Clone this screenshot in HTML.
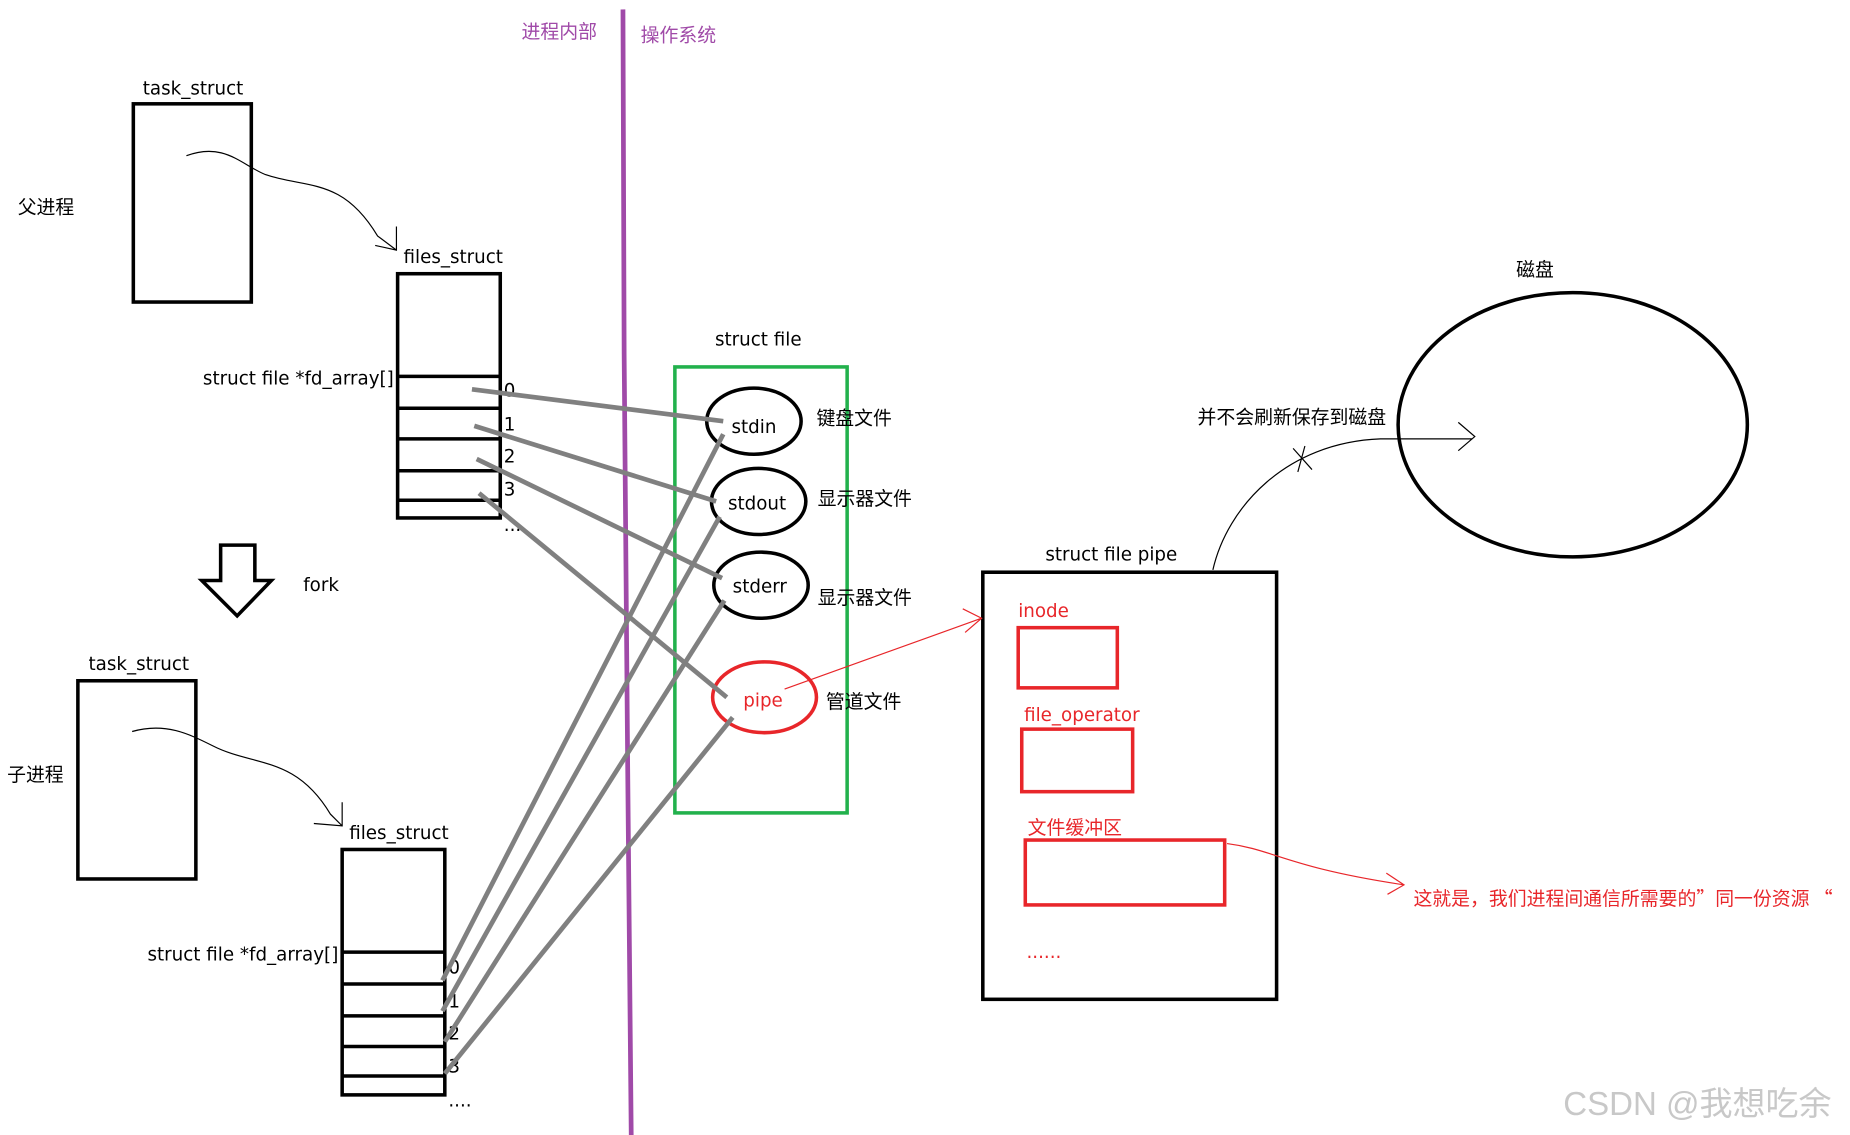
<!DOCTYPE html>
<html><head><meta charset="utf-8"><style>
html,body{margin:0;padding:0;background:#fff;}
svg{display:block;}
text{font-family:"DejaVu Sans","Noto Sans CJK SC",sans-serif;font-size:15.5px;fill:#000;}
.c{font-family:"Noto Sans CJK SC",sans-serif;font-size:16px;}
.r{fill:#e8262a;}
</style></head><body>
<svg width="1850" height="1135" viewBox="0 0 1568 962" xmlns="http://www.w3.org/2000/svg">
<rect width="1568" height="962" fill="#fff"/>
<path d="M528 8 L529 300 L532 650 L535 962" stroke="#a04aa8" stroke-width="4" fill="none"/>
<text x="442" y="32" class="c" style="fill:#a04aa8">进程内部</text>
<text x="543" y="35" class="c" style="fill:#a04aa8">操作系统</text>

<text x="121" y="80">task_struct</text>
<rect x="113" y="88" width="100" height="168" fill="none" stroke="#000" stroke-width="3"/>
<text x="15" y="181" class="c">父进程</text>
<path d="M158 132 C190 120,205 140,225 148 C260 160,290 150,320 200 L336 212" stroke="#000" fill="none" stroke-width="1"/>
<path d="M318 208 L336 212 L336 192" stroke="#000" fill="none" stroke-width="1"/>
<text x="342" y="223">files_struct</text>
<rect x="337" y="232" width="87" height="207" fill="none" stroke="#000" stroke-width="3"/>
<g stroke="#000" stroke-width="3"><line x1="337" y1="319" x2="424" y2="319"/><line x1="337" y1="346" x2="424" y2="346"/><line x1="337" y1="372" x2="424" y2="372"/><line x1="337" y1="399" x2="424" y2="399"/><line x1="337" y1="424" x2="424" y2="424"/></g>
<text x="172" y="326">struct file *fd_array[]</text>
<text x="427" y="336">0</text><text x="427" y="365">1</text><text x="427" y="392">2</text><text x="427" y="420">3</text><text x="427" y="450">....</text>

<path d="M187 462 L216 462 L216 492 L230 492 L201 522 L171 492 L187 492 Z" fill="none" stroke="#000" stroke-width="3"/>
<text x="257" y="501">fork</text>

<text x="75" y="568">task_struct</text>
<rect x="66" y="577" width="100" height="168" fill="none" stroke="#000" stroke-width="3"/>
<text x="6" y="662" class="c">子进程</text>
<path d="M112 620 C140 612,160 622,180 632 C215 650,250 640,280 690 L290 700" stroke="#000" fill="none" stroke-width="1"/>
<path d="M266 698 L290 700 L290 680" stroke="#000" fill="none" stroke-width="1"/>
<text x="296" y="711">files_struct</text>
<rect x="290" y="720" width="87" height="208" fill="none" stroke="#000" stroke-width="3"/>
<g stroke="#000" stroke-width="3"><line x1="290" y1="807" x2="377" y2="807"/><line x1="290" y1="834" x2="377" y2="834"/><line x1="290" y1="861" x2="377" y2="861"/><line x1="290" y1="887" x2="377" y2="887"/><line x1="290" y1="912" x2="377" y2="912"/></g>
<text x="125" y="814">struct file *fd_array[]</text>
<text x="380" y="825">0</text><text x="380" y="854">1</text><text x="380" y="881">2</text><text x="380" y="909">3</text><text x="380" y="938">....</text>

<text x="606" y="293">struct file</text>
<rect x="572" y="311" width="146" height="378" fill="none" stroke="#22b14c" stroke-width="3"/>
<ellipse cx="639" cy="357" rx="40" ry="28" fill="none" stroke="#000" stroke-width="3"/>
<text x="620" y="367">stdin</text>
<ellipse cx="643" cy="425" rx="40" ry="28" fill="none" stroke="#000" stroke-width="3"/>
<text x="617" y="432">stdout</text>
<ellipse cx="645" cy="496" rx="40" ry="28" fill="none" stroke="#000" stroke-width="3"/>
<text x="621" y="502">stderr</text>
<ellipse cx="648" cy="591" rx="44" ry="30" fill="none" stroke="#e8262a" stroke-width="3"/>
<text x="630" y="599" class="r">pipe</text>
<text x="692" y="360" class="c">键盘文件</text>
<text x="693" y="428" class="c">显示器文件</text>
<text x="693" y="512" class="c">显示器文件</text>
<text x="700" y="600" class="c">管道文件</text>

<g stroke="#808080" stroke-width="4" fill="none">
<line x1="400" y1="330" x2="613" y2="357"/>
<line x1="402" y1="361" x2="607" y2="425"/>
<line x1="404" y1="389" x2="612" y2="490"/>
<line x1="406" y1="418" x2="616" y2="591"/>
<line x1="613" y1="368" x2="375" y2="831"/>
<line x1="610" y1="438" x2="375" y2="857"/>
<line x1="614" y1="509" x2="377" y2="883"/>
<line x1="621" y1="608" x2="377" y2="910"/>
</g>

<text x="886" y="475">struct file pipe</text>
<rect x="833" y="485" width="249" height="362" fill="none" stroke="#000" stroke-width="3"/>
<text x="863" y="523" class="r">inode</text>
<rect x="863" y="532" width="84" height="51" fill="none" stroke="#e8262a" stroke-width="3"/>
<text x="868" y="611" class="r">file_operator</text>
<rect x="866" y="618" width="94" height="53" fill="none" stroke="#e8262a" stroke-width="3"/>
<text x="871" y="707" class="c r">文件缓冲区</text>
<rect x="869" y="712" width="169" height="55" fill="none" stroke="#e8262a" stroke-width="3"/>
<text x="870" y="812" class="r">......</text>
<path d="M665 584 L832 524 M816 516 L832 524 L818 536" stroke="#e8262a" fill="none" stroke-width="1"/>
<path d="M1040 715 C1080 720,1090 735,1190 750 M1175 740 L1190 750 L1176 758" stroke="#e8262a" fill="none" stroke-width="1"/>
<text x="1198" y="767" class="c r">这就是，我们进程间通信所需要的”同一份资源 “</text>

<text x="1285" y="234" class="c">磁盘</text>
<ellipse cx="1333" cy="360" rx="148" ry="112" fill="none" stroke="#000" stroke-width="3"/>
<text x="1015" y="359" class="c">并不会刷新保存到磁盘</text>
<path d="M1028 483 C1040 430,1090 375,1170 372 L1248 372 M1236 358 L1250 370 L1236 382" stroke="#000" fill="none" stroke-width="1"/>
<path d="M1096 380 L1112 398 M1106 378 L1100 400" stroke="#000" stroke-width="1"/>

<text x="1325" y="945" style="fill:#c8c8c8;font-size:28px;font-family:'Liberation Sans','Noto Sans CJK SC',sans-serif">CSDN @我想吃余</text>
</svg>
</body></html>
